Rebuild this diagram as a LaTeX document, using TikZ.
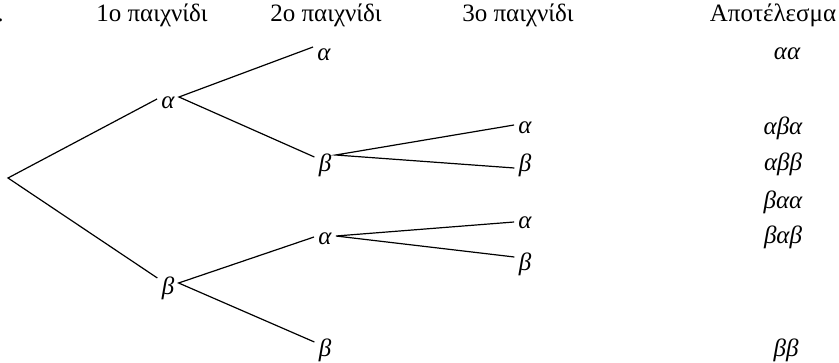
\documentclass[tikz,border=0pt]{standalone}
\usepackage{fontspec}
\setmainfont{Liberation Serif}
\begin{document}
\begin{tikzpicture}[x=0.5pt,y=-0.5pt,
  every node/.style={font=\fontsize{12.5}{15}\selectfont},
  lbl/.style={inner sep=2pt,anchor=center,font=\fontsize{12.5}{15}\selectfont\itshape},
  res/.style={inner sep=0pt,anchor=base,font=\fontsize{12.5}{15}\selectfont\itshape},
  hdr/.style={inner sep=0pt,anchor=base},
  br/.style={line width=0.6pt}]
\useasboundingbox (0,0) rectangle (839,363);
% headers
\node[hdr,anchor=base east] (dot) at (4,22) {.};
\node[hdr] (h1) at (152,22) {1ο παιχνίδι};
\node[hdr] (h2) at (326,22) {2ο παιχνίδι};
\node[hdr] (h3) at (518,22) {3ο παιχνίδι};
\node[hdr] (h4) at (773,22) {Αποτέλεσμα};
% tree
\coordinate (r) at (8,178);
\node[lbl] (a1) at (168,103) {α};
\node[lbl] (b1) at (168,288) {β};
\node[lbl] (aa) at (324,55) {α};
\node[lbl] (ab) at (325,165) {β};
\node[lbl] (ba) at (325,239) {α};
\node[lbl] (bb) at (325,350) {β};
\node[lbl] (aba) at (525,128) {α};
\node[lbl] (abb) at (525,165) {β};
\node[lbl] (baa) at (525,223) {α};
\node[lbl] (bab) at (525,264) {β};
% results
\node[res] (raa) at (787,60) {αα};
\node[res] (raba) at (783,135) {αβα};
\node[res] (rabb) at (783,170) {αββ};
\node[res] (rbaa) at (783,208) {βαα};
\node[res] (rbab) at (783,243) {βαβ};
\node[res] (rbb) at (786,356) {ββ};
% branches
\draw[br] ([yshift=2pt]a1.west) -- (r) -- ([yshift=5pt]b1.west);
\draw[br] ([yshift=4pt]aa.west) -- ([yshift=3pt]a1.east) -- ([yshift=4pt]ab.west);
\draw[br] ([yshift=1pt]ba.west) -- ([yshift=2.5pt]b1.east) -- ([yshift=4pt]bb.west);
\draw[br] ([yshift=1.5pt]aba.west) -- ([yshift=5pt]ab.east) -- ([yshift=-1.5pt]abb.west);
\draw[br] ([yshift=0.5pt]baa.west) -- ([yshift=1.5pt]ba.east) -- ([yshift=3.5pt]bab.west);
\end{tikzpicture}
\end{document}
